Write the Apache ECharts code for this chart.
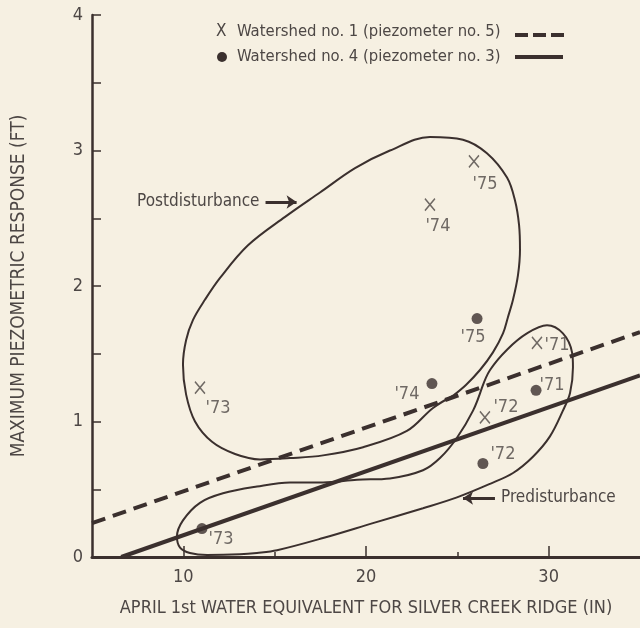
<!DOCTYPE html>
<html>
<head>
<meta charset="utf-8">
<script src="https://cdn.jsdelivr.net/npm/echarts@6/dist/echarts.min.js"></script>
<style>
html,body{margin:0;padding:0;background:#f6f0e2;}
#c{width:640px;height:628px;}
</style>
</head>
<body>
<div id="c"></div>
<script>
// ---- data ----
const years = ["'71", "'72", "'73", "'74", "'75"];
// Watershed no. 1 (piezometer no. 5) - X markers
const ws1X = [29.36, 26.51, 10.91, 23.50, 25.91];
const ws1Y = [1.58, 1.03, 1.25, 2.60, 2.92];
// Watershed no. 4 (piezometer no. 3) - dots
const ws4X = [29.31, 26.40, 11.02, 23.61, 26.08];
const ws4Y = [1.23, 0.69, 0.21, 1.28, 1.76];
// regression lines
const ws1FitX = [5, 35];
const ws1FitY = [0.25, 1.66];
const ws4FitX = [6.6, 35];
const ws4FitY = [0, 1.34];
// postdisturbance envelope
const postX = [24.76, 23.67, 22.24, 19.84, 17.65, 15.84, 14.20, 12.83, 11.57, 10.64, 10.15, 9.98, 10.15, 10.53, 11.19, 12.01, 13.54, 15.57, 17.48, 19.40, 21.31, 23.50, 25.31, 26.62, 27.72, 28.16, 28.38, 28.43, 28.32, 28.05, 27.77, 27.50, 26.95, 26.24, 25.47, 24.76];
const postY = [1.19, 1.10, 0.93, 0.81, 0.75, 0.73, 0.72, 0.76, 0.85, 1.00, 1.20, 1.42, 1.60, 1.75, 1.90, 2.06, 2.30, 2.51, 2.69, 2.87, 3.00, 3.10, 3.08, 2.98, 2.80, 2.63, 2.45, 2.27, 2.08, 1.90, 1.77, 1.65, 1.51, 1.38, 1.27, 1.19];
// predisturbance envelope
const preX = [26.35, 26.79, 27.72, 28.81, 29.91, 30.78, 31.28, 31.33, 31.17, 30.78, 30.07, 29.14, 28.05, 26.79, 24.98, 23.12, 20.38, 17.65, 15.13, 14.03, 13.10, 11.30, 10.36, 9.82, 9.65, 9.98, 10.91, 12.17, 14.03, 15.84, 17.65, 19.51, 21.31, 23.12, 24.05, 24.98, 25.86, 26.35];
const preY = [1.25, 1.38, 1.53, 1.65, 1.71, 1.65, 1.51, 1.40, 1.21, 1.08, 0.89, 0.74, 0.62, 0.54, 0.44, 0.36, 0.25, 0.14, 0.05, 0.03, 0.02, 0.015, 0.03, 0.07, 0.15, 0.27, 0.40, 0.47, 0.52, 0.55, 0.55, 0.57, 0.58, 0.64, 0.73, 0.88, 1.08, 1.25];
// annotation arrows
const postArrowX = [14.5, 16.2], postArrowY = [2.62, 2.62];
const preArrowX = [27.06, 25.31], preArrowY = [0.435, 0.435];
// ticks
const xLabelTicks = [10, 20, 30];
const xMinorTicks = [15, 25];
const yLabelTicks = [0, 1, 2, 3, 4];

// ---- style ----
const INK = '#3b302e';
const TXT = '#4d4745';
const FONT = '"DejaVu Sans Condensed", "DejaVu Sans", sans-serif';
const NARROW = '"Liberation Sans Narrow", "DejaVu Sans Condensed", sans-serif';
const ws1Offsets = [[20, 2], [21, -10], [18, 21], [8, 22], [11, 23]];
const ws4Offsets = [[16, -5], [20, -9], [19, 11], [-25, 11], [-4, 19]];

const zip = (a, b) => a.map((v, i) => [v, b[i]]);
const labelled = (xs, ys, offs) => xs.map((x, i) => ({
  value: [x, ys[i]],
  label: { show: true, formatter: years[i], position: 'inside', offset: offs[i] }
}));

const chart = echarts.init(document.getElementById('c'), null, { renderer: 'canvas' });
const labelStyle = { color: TXT, fontFamily: NARROW, fontSize: 18 };

chart.setOption({
  backgroundColor: '#f6f0e2',
  animation: false,
  grid: { left: 92, right: 0, top: 15, bottom: 71, outerBoundsMode: 'none' },
  xAxis: [{
    type: 'value', min: 5, max: 35, interval: 5,
    name: 'APRIL 1st WATER EQUIVALENT FOR SILVER CREEK RIDGE (IN)',
    nameLocation: 'middle', nameGap: 42,
    nameTextStyle: { color: TXT, fontFamily: NARROW, fontSize: 18 },
    axisLine: { show: true, onZero: false, lineStyle: { color: INK, width: 3 } },
    axisTick: { show: true, inside: true, length: 11, customValues: xLabelTicks, lineStyle: { color: INK, width: 1.5 } },
    axisLabel: { customValues: xLabelTicks, color: TXT, fontFamily: NARROW, fontSize: 18, margin: 11 },
    splitLine: { show: false }
  }, {
    type: 'value', min: 5, max: 35, interval: 5, position: 'bottom',
    axisLine: { show: false },
    axisTick: { show: true, inside: true, length: 5, customValues: xMinorTicks, lineStyle: { color: INK, width: 1.5 } },
    axisLabel: { show: false },
    splitLine: { show: false }
  }],
  yAxis: {
    type: 'value', min: 0, max: 4, interval: 0.5,
    name: 'MAXIMUM PIEZOMETRIC RESPONSE (FT)',
    nameLocation: 'middle', nameGap: 63,
    nameTextStyle: { color: TXT, fontFamily: NARROW, fontSize: 19 },
    axisLine: { show: true, onZero: false, lineStyle: { color: INK, width: 2.5 } },
    axisTick: { show: true, inside: true, length: 9, lineStyle: { color: INK, width: 1.5 } },
    axisLabel: { customValues: yLabelTicks, color: TXT, fontFamily: NARROW, fontSize: 18, margin: 9 },
    splitLine: { show: false }
  },
  series: [
    {
      name: 'Postdisturbance', type: 'line', data: zip(postX, postY), smooth: 0.35,
      showSymbol: false, symbol: 'none', lineStyle: { color: INK, width: 2 }, z: 2,
      markLine: {
        silent: true, symbol: ['none', 'arrow'], symbolSize: 10,
        lineStyle: { color: INK, width: 3, type: 'solid' },
        label: { show: true, position: 'start', formatter: 'Postdisturbance', distance: 6, color: TXT, fontFamily: FONT, fontSize: 17 },
        data: [[{ coord: [postArrowX[0], postArrowY[0]] }, { coord: [postArrowX[1], postArrowY[1]] }]]
      }
    },
    {
      name: 'Predisturbance', type: 'line', data: zip(preX, preY), smooth: 0.35,
      showSymbol: false, symbol: 'none', lineStyle: { color: INK, width: 2 }, z: 2,
      markLine: {
        silent: true, symbol: ['none', 'arrow'], symbolSize: 10,
        lineStyle: { color: INK, width: 3, type: 'solid' },
        label: { show: true, position: 'start', formatter: 'Predisturbance', distance: 6, color: TXT, fontFamily: FONT, fontSize: 17 },
        data: [[{ coord: [preArrowX[0], preArrowY[0]] }, { coord: [preArrowX[1], preArrowY[1]] }]]
      }
    },
    {
      name: 'ws1 fit', type: 'line', data: zip(ws1FitX, ws1FitY), symbol: 'none',
      lineStyle: { color: INK, width: 4, type: [14, 8] }, z: 3
    },
    {
      name: 'ws4 fit', type: 'line', data: zip(ws4FitX, ws4FitY), symbol: 'none',
      lineStyle: { color: INK, width: 4 }, z: 3
    },
    {
      name: 'Watershed no. 1 (piezometer no. 5)', type: 'scatter',
      data: labelled(ws1X, ws1Y, ws1Offsets),
      symbol: 'path://M0,0L10,12M10,0L0,12', symbolSize: [10, 12],
      itemStyle: { color: 'rgba(0,0,0,0)', borderColor: '#4d4745', borderWidth: 1.5 },
      label: labelStyle, z: 4
    },
    {
      name: 'Watershed no. 4 (piezometer no. 3)', type: 'scatter',
      data: labelled(ws4X, ws4Y, ws4Offsets),
      symbol: 'circle', symbolSize: 11,
      itemStyle: { color: INK },
      label: labelStyle, z: 4
    }
  ],
  graphic: [
    { type: 'text', x: 216, y: 32, style: { text: 'X', fill: TXT, font: '17px ' + NARROW, verticalAlign: 'middle' } },
    { type: 'text', x: 237, y: 32, style: { text: 'Watershed no. 1 (piezometer no. 5)', fill: TXT, font: '16.5px ' + FONT, verticalAlign: 'middle' } },
    { type: 'line', shape: { x1: 515, y1: 35, x2: 565, y2: 35 }, style: { stroke: INK, lineWidth: 4, lineDash: [13, 5] } },
    { type: 'circle', shape: { cx: 222, cy: 57, r: 5 }, style: { fill: INK } },
    { type: 'text', x: 237, y: 57, style: { text: 'Watershed no. 4 (piezometer no. 3)', fill: TXT, font: '16.5px ' + FONT, verticalAlign: 'middle' } },
    { type: 'line', shape: { x1: 515, y1: 57, x2: 563, y2: 57 }, style: { stroke: INK, lineWidth: 4 } }
  ]
});
</script>
</body>
</html>
